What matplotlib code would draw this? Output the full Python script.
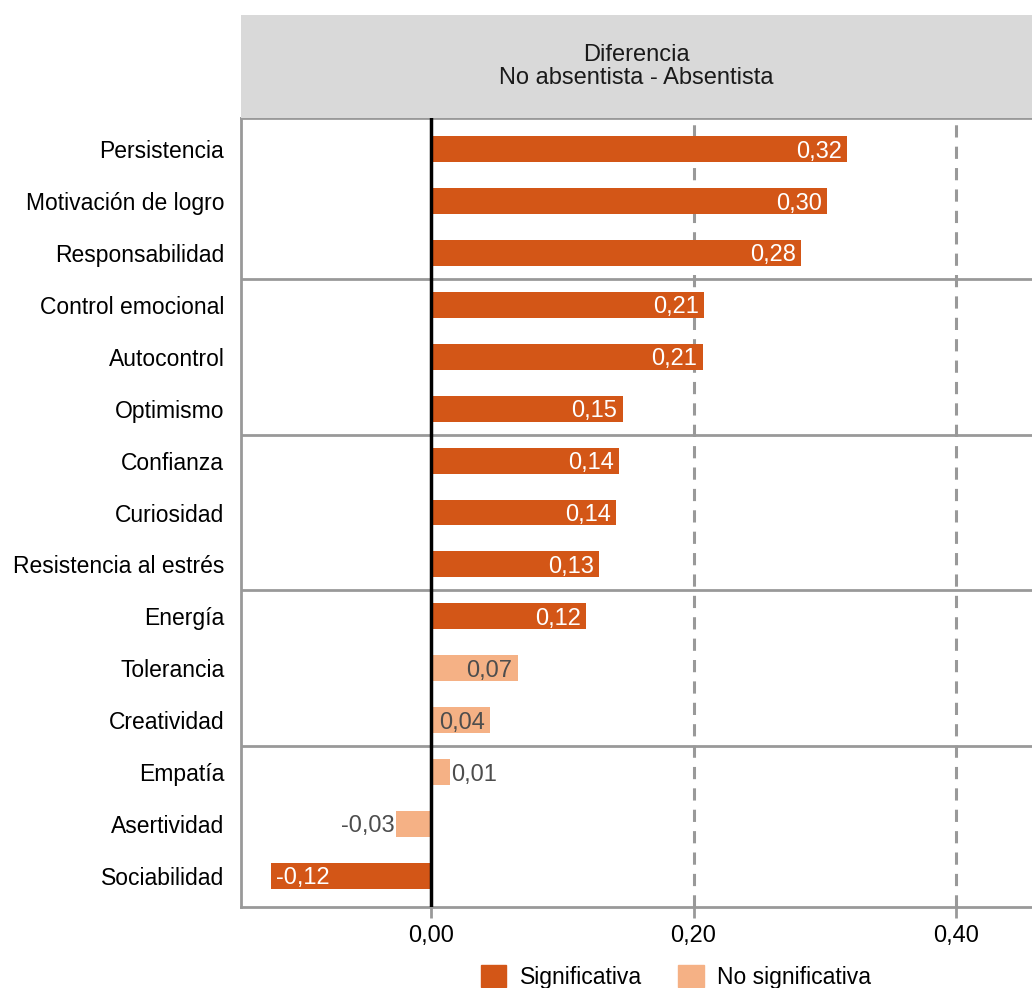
import matplotlib.pyplot as plt
from matplotlib.patches import Patch

plt.rcParams['font.family'] = ['Liberation Sans', 'DejaVu Sans']

# datos (de arriba hacia abajo)
factores = ["Persistencia", "Motivación de logro", "Responsabilidad",
            "Control emocional", "Autocontrol", "Optimismo",
            "Confianza", "Curiosidad", "Resistencia al estrés",
            "Energía", "Tolerancia", "Creatividad",
            "Empatía", "Asertividad", "Sociabilidad"]
diferencia = [0.317, 0.302, 0.282, 0.208, 0.207, 0.146, 0.143, 0.141,
              0.128, 0.118, 0.066, 0.045, 0.014, -0.027, -0.122]
significativa = [True] * 10 + [False, False, False, False, True]
etiquetas = ["0,32", "0,30", "0,28", "0,21", "0,21", "0,15", "0,14", "0,14",
             "0,13", "0,12", "0,07", "0,04", "0,01", "-0,03", "-0,12"]
xticks = [0.0, 0.2, 0.4]
xtick_labels = ["0,00", "0,20", "0,40"]

OSCURO = "#D35617"
CLARO = "#F5B185"
GRIS = "#999999"

W, H = 1032, 988
fig = plt.figure(figsize=(W / 100, H / 100), dpi=100)

# panel principal
ax = fig.add_axes([241 / W, (H - 907) / H, 791 / W, 789 / H])
n = len(factores)
ypos = list(range(n))[::-1]
colores = [OSCURO if s else CLARO for s in significativa]
ax.barh(ypos, diferencia, height=0.5, color=colores, zorder=2)

# lineas de referencia
for x in [0.2, 0.4]:
    ax.axvline(x, color=GRIS, lw=2.2, ls=(0, (4, 3)), zorder=1)
ax.axvline(0, color="black", lw=2.5, zorder=3)
for k in [3, 6, 9, 12]:
    ax.axhline(n - k - 0.5, color=GRIS, lw=2, zorder=1)

# etiquetas de valor
fs_val = 17
for y, v, t, s in zip(ypos, diferencia, etiquetas, significativa):
    col = "white" if s else "#4D4D4D"
    if v >= 0.04:
        ha, x = "right", v - 0.004
    elif v >= 0:
        ha, x = "left", v + 0.001
    elif v > -0.06:
        ha, x = "right", v - 0.001
    else:
        ha, x = "left", v + 0.004
    ax.text(x, y, t, ha=ha, va="center_baseline", color=col, fontsize=fs_val, zorder=4)

ax.set_xlim(-0.145, 0.458)
ax.set_ylim(-0.6, n - 0.4)
ax.set_yticks(ypos)
ax.set_yticklabels(factores, fontsize=16.5)
ax.set_xticks(xticks)
ax.set_xticklabels(xtick_labels, fontsize=17)
ax.tick_params(axis="y", length=0, pad=12)
ax.tick_params(axis="x", length=8, width=2, color=GRIS, pad=5)
ax.get_xticklines()[0].set_color("black")
for side in ["left", "bottom", "top"]:
    ax.spines[side].set_color(GRIS)
    ax.spines[side].set_linewidth(2)
ax.spines["right"].set_visible(False)

# franja superior
strip = fig.add_axes([241 / W, (H - 118) / H, 791 / W, 103 / H])
strip.set_facecolor("#D9D9D9")
strip.set_xticks([])
strip.set_yticks([])
for s in strip.spines.values():
    s.set_visible(False)
strip.text(0.5, 0.5, "Diferencia\nNo absentista - Absentista", ha="center", va="center",
           fontsize=17, color="#1A1A1A", linespacing=1.05, transform=strip.transAxes)

# leyenda
handles = [Patch(color=OSCURO, label="Significativa"),
           Patch(color=CLARO, label="No significativa")]
fig.legend(handles=handles, loc="center", bbox_to_anchor=(676 / W, 1 - 977 / H), ncol=2,
           frameon=False, fontsize=16.5, handlelength=1.1, handleheight=1.1,
           columnspacing=1.6, handletextpad=0.6)

fig.savefig("out.png", dpi=100)
